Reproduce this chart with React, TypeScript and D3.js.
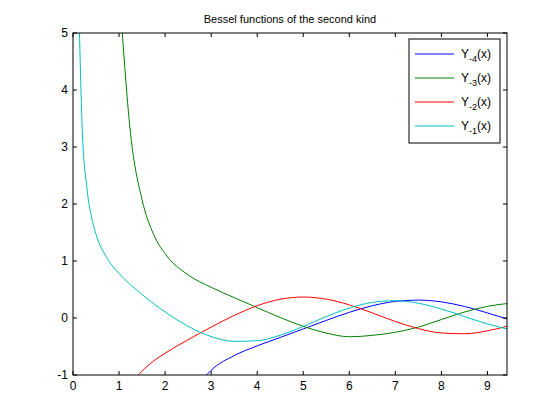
import React from 'react';
import * as d3 from 'd3';

// Values (MATLAB plot, x in [0, 3π])
const xA = [0.1, 0.2, 0.3, 0.4, 0.5, 0.75, 1, 1.5, 2, 2.5, 3, 3.5, 4, 4.5, 5, 5.5, 6, 6.5, 7, 7.5, 8, 8.5, 9, 9.5];
const yNeg1 = [6.459, 3.324, 2.293, 1.781, 1.471, 1.038, 0.781, 0.412, 0.107, -0.146, -0.325, -0.410, -0.398, -0.301, -0.148, 0.024, 0.175, 0.274, 0.303, 0.259, 0.158, 0.026, -0.104, -0.206];

const xB = [1, 1.25, 1.5, 1.75, 2, 2.5, 3, 3.5, 4, 4.5, 5, 5.5, 6, 6.5, 7, 7.5, 8, 8.5, 9, 9.5];
const yNeg2 = [-1.651, -1.193, -0.932, -0.755, -0.618, -0.381, -0.160, 0.045, 0.216, 0.329, 0.368, 0.331, 0.230, 0.089, -0.061, -0.186, -0.263, -0.276, -0.225, -0.129];
const yNeg3 = [5.821, 3.233, 2.074, 1.467, 1.128, 0.756, 0.539, 0.358, 0.182, 0.009, -0.146, -0.264, -0.329, -0.305, -0.250, -0.160, -0.027, 0.104, 0.204, 0.260];

const xC = [2.5, 3, 3.5, 4, 4.5, 5, 5.5, 6, 6.5, 7, 7.5, 8, 8.5, 9, 9.5];
const yNeg4 = [-1.433, -0.917, -0.660, -0.489, -0.341, -0.192, -0.042, 0.099, 0.215, 0.291, 0.314, 0.283, 0.203, 0.089, -0.036];

const series = [
  { label: '-4', xs: xC, ys: yNeg4, color: '#0000ff' },
  { label: '-3', xs: xB, ys: yNeg3, color: '#008000' },
  { label: '-2', xs: xB, ys: yNeg2, color: '#ff0000' },
  { label: '-1', xs: xA, ys: yNeg1, color: '#00bfbf' },
];
const xTicks = [0, 1, 2, 3, 4, 5, 6, 7, 8, 9];
const yTicks = [-1, 0, 1, 2, 3, 4, 5];

export default function App() {
  const L = 73, R = 507, T = 33, B = 375;
  const x = d3.scaleLinear().domain([0, 3 * Math.PI]).range([L, R]);
  const y = d3.scaleLinear().domain([-1, 5]).range([B, T]);
  const font = 'Helvetica, Arial, "Liberation Sans", sans-serif';
  const line = d3.line<[number, number]>().x(d => x(d[0])).y(d => y(d[1])).curve(d3.curveMonotoneX);
  return (
    <svg width={560} height={420} style={{ position: 'absolute', left: 0, top: 0, background: '#fff' }} fontFamily={font}>
      <defs>
        <clipPath id="plot"><rect x={L} y={T} width={R - L} height={B - T} /></clipPath>
      </defs>
      <rect x={0} y={0} width={560} height={420} fill="#fff" />
      <g clipPath="url(#plot)">
        {series.map(s => (
          <path key={s.label} d={line(s.xs.map((v, i) => [v, s.ys[i]] as [number, number])) || ''}
            fill="none" stroke={s.color} strokeWidth={1} />
        ))}
      </g>
      <rect x={L} y={T} width={R - L} height={B - T} fill="none" stroke="#000" strokeWidth={1} />
      {xTicks.map(t => (
        <g key={t}>
          <line x1={x(t)} x2={x(t)} y1={B} y2={B - 4} stroke="#000" />
          <line x1={x(t)} x2={x(t)} y1={T} y2={T + 4} stroke="#000" />
          <text x={x(t)} y={B + 15} fontSize={12} textAnchor="middle">{t}</text>
        </g>
      ))}
      {yTicks.map(t => (
        <g key={t}>
          <line x1={L} x2={L + 4} y1={y(t)} y2={y(t)} stroke="#000" />
          <line x1={R} x2={R - 4} y1={y(t)} y2={y(t)} stroke="#000" />
          <text x={L - 5} y={y(t) + 4} fontSize={12} textAnchor="end">{t}</text>
        </g>
      ))}
      <text x={(L + R) / 2} y={23} fontSize={11} textAnchor="middle">Bessel functions of the second kind</text>
      <g transform="translate(409,39)">
        <rect x={0} y={0} width={91} height={104} fill="#fff" stroke="#000" />
        {series.map((s, i) => (
          <g key={s.label} transform={`translate(0,${15 + i * 24})`}>
            <line x1={6} x2={45} y1={0} y2={0} stroke={s.color} />
            <text x={52} y={4} fontSize={12}>Y<tspan fontSize={9} dy={4}>{s.label}</tspan><tspan dy={-4}>(x)</tspan></text>
          </g>
        ))}
      </g>
    </svg>
  );
}
